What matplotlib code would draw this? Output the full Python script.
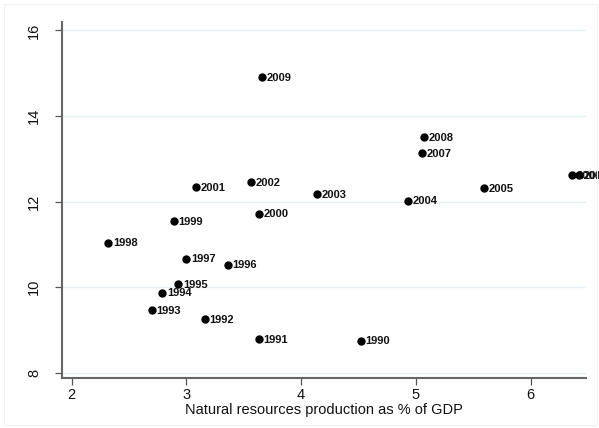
import matplotlib
matplotlib.use("Agg")
import matplotlib.pyplot as plt
from matplotlib.patches import Rectangle

plt.rcParams["font.family"] = ["Liberation Sans", "DejaVu Sans"]

# natural resources production (% of GDP) vs. outcome, by year
years = [1990, 1991, 1992, 1993, 1994, 1995, 1996, 1997, 1998, 1999,
         2000, 2001, 2002, 2003, 2004, 2005, 2006, 2007, 2008, 2009, 2010]
nat_res = [4.52, 3.63, 3.16, 2.70, 2.79, 2.93, 3.36, 3.00, 2.32, 2.89,
           3.63, 3.08, 3.56, 4.14, 4.93, 5.59, 6.36, 5.05, 5.07, 3.66, 6.42]
outcome = [8.75, 8.78, 9.25, 9.46, 9.87, 10.07, 10.53, 10.67, 11.04, 11.54,
           11.72, 12.33, 12.46, 12.18, 12.02, 12.31, 12.62, 13.13, 13.50, 14.91, 12.61]

xticks = [2, 3, 4, 5, 6]
yticks = [8, 10, 12, 14, 16]

fig = plt.figure(figsize=(5.99, 4.28), dpi=100)
fig.patches.append(Rectangle((0.006, 0.006), 0.99, 0.985, transform=fig.transFigure,
                             fill=False, edgecolor="#f0f2f4", linewidth=0.8))
ax = fig.add_axes([0.1035, 0.117, 0.8745, 0.832])

ax.scatter(nat_res, outcome, s=25, color="black", zorder=3, clip_on=False)
for x, y, yr in zip(nat_res, outcome, years):
    ax.annotate(str(yr), (x, y), xytext=(3.5, -0.5), textcoords="offset points",
                ha="left", va="center", fontsize=8, fontweight="bold",
                color="#111111", annotation_clip=False)

ax.set_xlim(1.917, 6.48)
ax.set_ylim(7.88, 16.2)
ax.set_xticks(xticks)
ax.set_yticks(yticks)
ax.tick_params(axis="both", direction="out", length=5, width=0.9, color="#555555",
               labelsize=10.5, labelcolor="#111111")
ax.tick_params(axis="x", pad=2)
ax.tick_params(axis="y", pad=10)
plt.setp(ax.get_yticklabels(), rotation=90, va="center")

ax.yaxis.grid(True, color="#e6eef2", linewidth=1.0)
ax.set_axisbelow(True)
for side in ["top", "right"]:
    ax.spines[side].set_visible(False)
for side in ["left", "bottom"]:
    ax.spines[side].set_color("#666666")
    ax.spines[side].set_linewidth(1.5)

ax.set_xlabel("Natural resources production as % of GDP", fontsize=10.5,
              color="#111111", labelpad=1)

fig.savefig("out.png", dpi=100)
